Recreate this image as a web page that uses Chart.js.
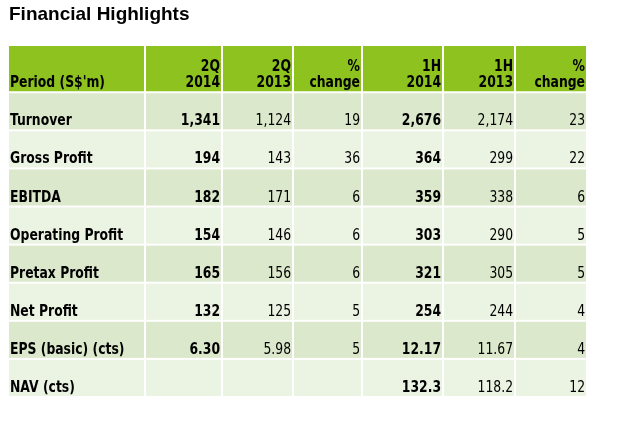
<!DOCTYPE html>
<html><head><meta charset="utf-8">
<script src="https://cdn.jsdelivr.net/npm/chart.js@4/dist/chart.umd.min.js"></script>
<style>html,body{margin:0;padding:0;background:#fff}#c{display:block}</style>
</head><body>
<div style="width:621px;height:437px"><canvas id="c"></canvas></div>
<script>
const title = "Financial Highlights";
const headers = [["Period (S$'m)"],["2Q","2014"],["2Q","2013"],["%","change"],["1H","2014"],["1H","2013"],["%","change"]];
const rows = ["Turnover","Gross Profit","EBITDA","Operating Profit","Pretax Profit","Net Profit","EPS (basic) (cts)","NAV (cts)"];
const q2014 = ["1,341","194","182","154","165","132","6.30",""];
const q2013 = ["1,124","143","171","146","156","125","5.98",""];
const qChange = ["19","36","6","6","6","5","5",""];
const h2014 = ["2,676","364","359","303","321","254","12.17","132.3"];
const h2013 = ["2,174","299","338","290","305","244","11.67","118.2"];
const hChange = ["23","22","6","5","5","4","4","12"];
const boldCols = [true,true,false,false,true,false,false];

// layout (table units = pixels relative to table origin)
const colEdges = [0,137,214,285,354,435,507,579];
const headerH = 47, rowH = 37.9;
const cols = [rows,q2014,q2013,qChange,h2014,h2013,hChange];
const SX = 0.86;

function narrowText(ctx, t, x, y, align){
  ctx.save();
  ctx.translate(x, y);
  ctx.scale(SX, 1);
  ctx.textAlign = align;
  ctx.fillText(t, 0, 0);
  ctx.restore();
}

const tablePlugin = {
  id:'table',
  afterDraw(chart){
    const ctx = chart.ctx, xs = chart.scales.x, ys = chart.scales.y;
    const X = v=>xs.getPixelForValue(v), Y = v=>ys.getPixelForValue(v);
    ctx.save();
    ctx.fillStyle='#000';
    ctx.font='bold 19px "Liberation Sans", Arial, sans-serif';
    ctx.textBaseline='middle';ctx.textAlign='left';
    ctx.fillText(title, 9, 15);
    const rowTop = i => i<0?0:headerH+i*rowH;
    const rowBot = i => i<0?headerH:headerH+(i+1)*rowH;
    for(let r=-1;r<rows.length;r++){
      const color = r<0?'#8DC21F':(r%2===0?'#DCE8CB':'#EBF3E3');
      for(let c=0;c<7;c++){
        const x0=X(colEdges[c]),x1=X(colEdges[c+1]),y0=Y(rowTop(r)),y1=Y(rowBot(r));
        ctx.fillStyle=color;
        ctx.fillRect(x0+1,y0+1,x1-x0-2,y1-y0-2);
      }
    }
    ctx.fillStyle='#000';
    ctx.textBaseline='alphabetic';
    for(let c=0;c<7;c++){
      const h=headers[c];
      ctx.font='bold 16px "DejaVu Sans Condensed", "Liberation Sans Narrow", sans-serif';
      const x=c===0?X(colEdges[0])+2:X(colEdges[c+1])-2;
      const yb=Y(headerH)-5;
      for(let k=0;k<h.length;k++) narrowText(ctx,h[h.length-1-k],x,yb-k*16,c===0?'left':'right');
    }
    for(let r=0;r<rows.length;r++){
      const yb=Y(rowBot(r))-5;
      for(let c=0;c<7;c++){
        const t=cols[c][r]; if(!t) continue;
        ctx.font=(boldCols[c]?'bold ':'')+'16px "DejaVu Sans Condensed", "Liberation Sans Narrow", sans-serif';
        const x=c===0?X(colEdges[0])+2:X(colEdges[c+1])-2;
        narrowText(ctx,t,x,yb,c===0?'left':'right');
      }
    }
    ctx.restore();
  }
};

new Chart(document.getElementById('c'),{
  type:'scatter',
  data:{datasets:[{data:[]}]},
  options:{
    responsive:true,maintainAspectRatio:false,animation:false,
    layout:{padding:{left:8,top:45,right:34,bottom:40}},
    plugins:{legend:{display:false},tooltip:{enabled:false}},
    scales:{
      x:{type:'linear',min:0,max:colEdges[colEdges.length-1],display:false},
      y:{type:'linear',min:0,max:headerH+rows.length*rowH,reverse:true,display:false}
    }
  },
  plugins:[tablePlugin]
});
</script>
</body></html>
